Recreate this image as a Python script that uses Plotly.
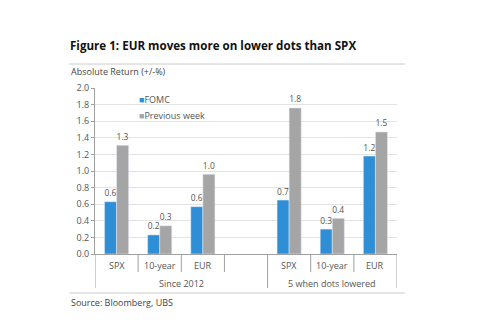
import plotly.graph_objects as go

categories = ["SPX", "10-year", "EUR", "", "SPX", "10-year", "EUR"]
groups = ["Since 2012", "5 when dots lowered"]
series_names = ["FOMC", "Previous week"]
fomc = [0.63, 0.23, 0.57, None, 0.65, 0.30, 1.18]
prev_week = [1.31, 0.34, 0.96, None, 1.76, 0.43, 1.47]
y_ticks = [0.0, 0.2, 0.4, 0.6, 0.8, 1.0, 1.2, 1.4, 1.6, 1.8, 2.0]

W, H = 500, 329
L, R, T, B = 95, 397, 88, 254
pw, ph = R - L, B - T

def px(x):
    return (x - L) / pw

def py(y):
    return (B - y) / ph

xs = list(range(len(categories)))
font = "Open Sans, Noto Sans, sans-serif"
txt = "#555555"
colors = ["#2f8fd6", "#a5a5a5"]

fig = go.Figure()
for name, vals, col in zip(series_names, [fomc, prev_week], colors):
    fig.add_trace(go.Bar(x=xs, y=vals, name=name, marker_color=col,
                         text=[None if v is None else f"{v:.1f}" for v in vals],
                         textposition="outside", textfont=dict(size=10, color=txt),
                         cliponaxis=False, showlegend=False))

shapes = []
for i in range(len(categories) + 1):
    xv = i - 0.5
    long = i in (0, 4, 7)
    y1 = 288 if long else 272
    shapes.append(dict(type="line", xref="x", yref="paper", x0=xv, x1=xv,
                       y0=0, y1=py(y1), line=dict(color="#a0a0a0", width=1)))
for yy in (64, 293):
    shapes.append(dict(type="line", xref="paper", yref="paper", x0=px(69), x1=px(405),
                       y0=py(yy), y1=py(yy), line=dict(color="#cccccc", width=1)))

annotations = [
    dict(text="<b>Figure 1: EUR moves more on lower dots than SPX</b>", xref="paper", yref="paper",
         x=px(68), y=py(46), xanchor="left", yanchor="middle", showarrow=False,
         font=dict(size=11.6, color="#111111", family=font)),
    dict(text="Absolute Return (+/-%)", xref="paper", yref="paper",
         x=px(69), y=py(71), xanchor="left", yanchor="middle", showarrow=False,
         font=dict(size=9, color="#444444", family=font)),
    dict(text="Source: Bloomberg, UBS", xref="paper", yref="paper",
         x=px(69), y=py(302), xanchor="left", yanchor="middle", showarrow=False,
         font=dict(size=9, color="#444444", family=font)),
]
# legend as text entries
for k, (name, col) in enumerate(zip(series_names, colors)):
    annotations.append(dict(text=f"<span style='color:{col}'>■</span>{name}", xref="paper", yref="paper",
                            x=px(137), y=py(99 + 16 * k), xanchor="left", yanchor="middle",
                            showarrow=False, font=dict(size=9, color=txt, family=font)))
for i, c in enumerate(categories):
    if c:
        annotations.append(dict(text=c, xref="x", yref="paper", x=i, y=py(265),
                                xanchor="center", yanchor="middle", showarrow=False,
                                font=dict(size=9, color=txt, family=font)))
annotations.append(dict(text=groups[0], xref="x", yref="paper", x=1.5, y=py(283),
                        xanchor="center", yanchor="middle", showarrow=False,
                        font=dict(size=9, color=txt, family=font)))
annotations.append(dict(text=groups[1], xref="x", yref="paper", x=5, y=py(283),
                        xanchor="center", yanchor="middle", showarrow=False,
                        font=dict(size=9, color=txt, family=font)))

fig.update_layout(
    width=W, height=H,
    margin=dict(l=L, r=W - R, t=T, b=H - B),
    paper_bgcolor="white", plot_bgcolor="white",
    barmode="group", bargap=0.44, bargroupgap=0,
    font=dict(family=font, color=txt),
    shapes=shapes, annotations=annotations,
    xaxis=dict(range=[-0.5, 6.5], showticklabels=False, showgrid=False,
               zeroline=False, showline=True, linecolor="#a0a0a0", ticks=""),
    yaxis=dict(range=[0, 2.0], tickvals=y_ticks, ticktext=[f"{v:.1f}" for v in y_ticks],
               showgrid=True, gridcolor="#e3e3e3", zeroline=False,
               showline=True, linecolor="#a0a0a0", ticks="outside", ticklen=3,
               tickcolor="#a0a0a0", tickfont=dict(size=9, color=txt)),
)

fig.write_html("out.html")
